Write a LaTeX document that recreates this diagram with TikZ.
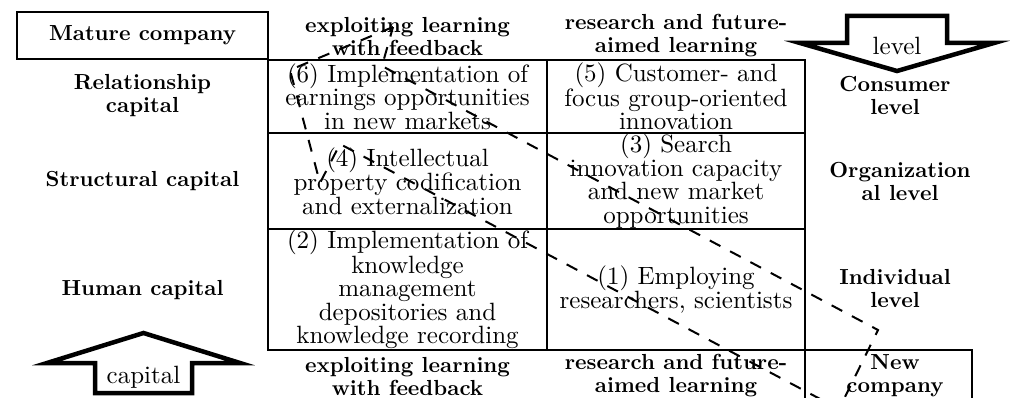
\documentclass[tikz,border=0pt]{standalone}
\usepackage{fontspec}
\setmainfont{lmroman10-regular.otf}[BoldFont=lmroman10-bold.otf]
\begin{document}
\begin{tikzpicture}[x=1pt,y=-1pt,
  frame/.style={draw=black,line width=2.4pt},
  cell/.style={frame,inner sep=0pt,align=center,font=\fontsize{25}{23.5}\selectfont},
  head/.style={inner sep=0pt,align=center,font=\bfseries\fontsize{21.8}{23}\selectfont},
  plain/.style={inner sep=0pt,font=\fontsize{25}{23.5}\selectfont},
  bigarrow/.style={draw=black,line width=4.5pt,line join=miter,miter limit=20},
  spiral/.style={draw=black,line width=2pt,dash pattern=on 12pt off 11pt},
]
\useasboundingbox (0,0) rectangle (1012,398);

% top-left title box
\node[frame,head,minimum width=251pt,minimum height=47pt] (mature) at (142.5,35.5) {Mature company};

% column headings
\node[head] (toplA) at (407.5,37) {exploiting learning\\with feedback};
\node[head] (toplB) at (676,36) {research and future-\\aimed learning};
\node[head] (botlA) at (407.5,376) {exploiting learning\\with feedback};
\node[head] (botlB) at (676,376) {research and future-\\aimed learning};

% row headings
\node[head] (relcap) at (142.5,96) {Relationship\\capital};
\node[head] (strcap) at (142.5,181) {Structural capital};
\node[head] (humcap) at (142.5,290) {Human capital};

% level headings
\node[head] (conslev) at (895,95) {Consumer\\level};
\node[head] (orglev) at (900,181) {Organization\\al level};
\node[head] (indlev) at (895,289) {Individual\\level};

% matrix cells
\node[cell,minimum width=279pt,minimum height=73pt] (rA) at (407.5,96.5)
  {(6) Implementation of\\earnings opportunities\\in new markets};
\node[cell,minimum width=258pt,minimum height=73pt] (rB) at (676,96.5)
  {(5) Customer- and\\focus group-oriented\\innovation};
\node[cell,minimum width=279pt,minimum height=96pt] (sA) at (407.5,181)
  {(4) Intellectual\\property codification\\and externalization};
\node[cell,minimum width=258pt,minimum height=96pt] (sB) at (676,181)
  {(3) Search\\innovation capacity\\and new market\\opportunities};
\node[cell,minimum width=279pt,minimum height=121pt] (hA) at (407.5,289.5)
  {(2) Implementation of\\knowledge\\management\\depositories and\\knowledge recording};
\node[cell,minimum width=258pt,minimum height=121pt] (hB) at (676,289.5)
  {(1) Employing\\researchers, scientists};

% new company box (open below the page edge)
\node[frame,minimum width=167pt,minimum height=80pt,inner sep=0pt] (newbox) at (888.5,390) {};
\node[head] (newco) at (895,376) {New\\company};

% level arrow (down) and capital arrow (up)
\draw[bigarrow] (847,16) -- (947,16) -- (947,43) -- (994,43) -- (897,71)
  -- (800,43) -- (847,43) -- cycle;
\node[plain] (levtxt) at (897,46) {level};
\draw[bigarrow] (95,393) -- (192,393) -- (192,363) -- (240,363) -- (143.5,333)
  -- (47,363) -- (95,363) -- cycle;
\node[plain] (captxt) at (143.5,377) {capital};

% dashed knowledge spiral
\coordinate (pA) at (393,27);
\coordinate (pB) at (290,70);
\coordinate (pC) at (320,183);
\coordinate (pD) at (340,144);
\coordinate (pE) at (839,409);
\coordinate (pF) at (878,330);
\coordinate (pG) at (382,66);
\draw[spiral] (pA) -- (pB) -- (pC) -- (pD) -- (pE) -- (pF) -- (pG) -- cycle;
\end{tikzpicture}
\end{document}
